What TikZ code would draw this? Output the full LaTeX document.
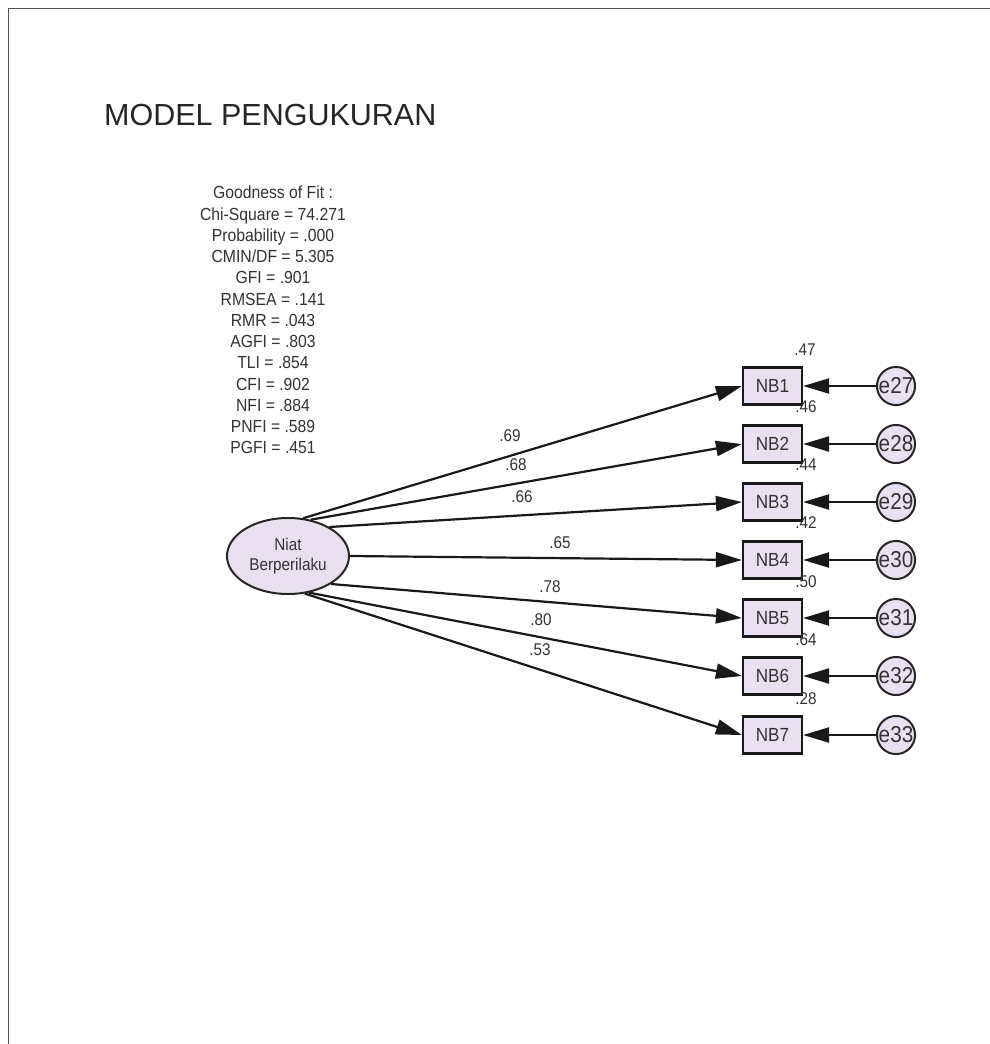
\documentclass[tikz,border=0pt]{standalone}
\usepackage{fontspec}
\setmainfont{Liberation Sans}
\newfontfamily\narrowf[FakeStretch=0.9]{Liberation Sans}
\usetikzlibrary{arrows.meta,shapes.geometric}
\definecolor{txt}{HTML}{333333}
\definecolor{boxfill}{HTML}{E9E1F2}
\definecolor{frame}{HTML}{555555}
\tikzset{
  obs/.style={draw=black!90,line width=2.2pt,fill=boxfill,minimum width=59pt,minimum height=37pt,inner sep=0pt,
    font=\narrowf\fontsize{19}{19}\selectfont,text=txt},
  err/.style={circle,draw=black!85,line width=2pt,fill=boxfill,minimum size=37pt,inner sep=0pt,
    font=\narrowf\fontsize{23}{23}\selectfont,text=txt},
  lat/.style={ellipse,draw=black!85,line width=2pt,fill=boxfill,minimum width=122pt,minimum height=76pt,inner sep=0pt,
    font=\narrowf\fontsize{17}{20}\selectfont,text=txt,align=center},
  lbl/.style={font=\narrowf\fontsize{17}{17}\selectfont,text=txt,inner sep=0pt},
  arr/.style={line width=2.2pt,draw=black!90,-{Triangle[length=26pt,width=15pt]}},
}
\begin{document}
\begin{tikzpicture}[x=1pt,y=-1pt]
\useasboundingbox (0,0) rectangle (990,1044);
\fill[white] (0,0) rectangle (990,1044);
\draw[frame,line width=1.6pt] (8.5,1044) -- (8.5,8.5) -- (990,8.5);

\node[anchor=base west,inner sep=0pt,text=black!85,font=\fontsize{30.5}{30.5}\selectfont] (title) at (104,125) {MODEL PENGUKURAN};

\node[anchor=north,inner sep=0pt,align=center,text=txt,font=\narrowf\fontsize{17.5}{21.25}\selectfont] (fit) at (273,186)
 {Goodness of Fit :\\Chi-Square = 74.271\\Probability = .000\\CMIN/DF = 5.305\\GFI = .901\\RMSEA = .141\\RMR = .043\\AGFI = .803\\TLI = .854\\CFI = .902\\NFI = .884\\PNFI = .589\\PGFI = .451};

\node[lat] (el) at (288,556) {Niat\\Berperilaku};

\foreach \i/\y/\e in {1/386/27,2/444/28,3/502/29,4/560/30,5/618/31,6/676/32,7/735/33}{
  \node[obs] (nb\i) at (772.5,\y) {NB\i};
  \node[err] (e\e) at (896,\y) {e\e};
  \draw[arr] (e\e) -- (nb\i);
}

\draw[arr] (el.68) -- (nb1.west);
\draw[arr] (el.58) -- (nb2.west);
\draw[arr] (el.35) -- (nb3.west);
\draw[arr] (el.0) -- (nb4.west);
\draw[arr] (el.-33) -- (nb5.west);
\draw[arr] (el.-60) -- (nb6.west);
\draw[arr] (el.-66) -- (nb7.west);

\node[lbl] (l1) at (510,436) {.69};
\node[lbl] (l2) at (516,465) {.68};
\node[lbl] (l3) at (522,497) {.66};
\node[lbl] (l4) at (560,543) {.65};
\node[lbl] (l5) at (550,587) {.78};
\node[lbl] (l6) at (541,620) {.80};
\node[lbl] (l7) at (540,650) {.53};

\node[lbl] (r1) at (805,350) {.47};
\node[lbl] (r2) at (806,407) {.46};
\node[lbl] (r3) at (806,465) {.44};
\node[lbl] (r4) at (806,523) {.42};
\node[lbl] (r5) at (806,582) {.50};
\node[lbl] (r6) at (806,640) {.64};
\node[lbl] (r7) at (806,699) {.28};
\end{tikzpicture}
\end{document}
